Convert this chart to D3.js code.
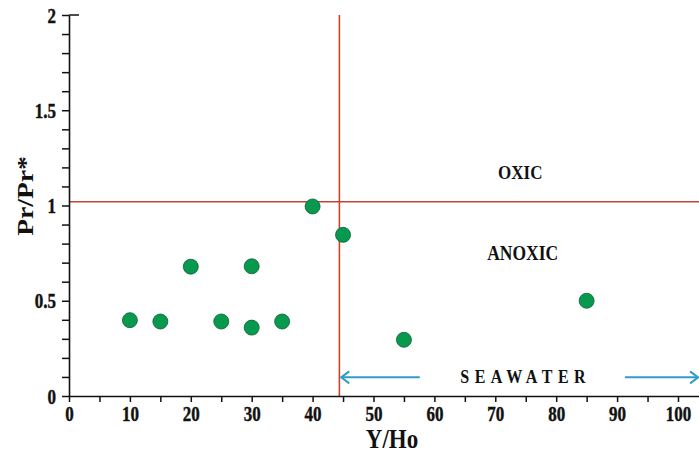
<!DOCTYPE html>
<html>
<head>
<meta charset="utf-8">
<script src="https://cdn.jsdelivr.net/npm/d3@7/dist/d3.min.js"></script>
<style>
  html, body { margin: 0; padding: 0; background: #ffffff; }
  svg { display: block; }
  text { font-family: "Liberation Serif", "Times New Roman", serif; font-weight: bold; }
</style>
</head>
<body>
<svg id="chart" width="699" height="452"></svg>
<script>
// ---- data ----
const yHo = [10, 15, 20, 25, 30, 30, 35, 40, 45, 55, 85];
const prPr = [0.398, 0.391, 0.679, 0.391, 0.359, 0.681, 0.391, 0.995, 0.846, 0.295, 0.50];
const xTickValues = [0, 5, 10, 15, 20, 25, 30, 35, 40, 45, 50, 55, 60, 65, 70, 75, 80, 85, 90, 95, 100];
const xTickLabels = ["0", "10", "20", "30", "40", "50", "60", "70", "80", "90", "100"];
const yTickValues = [0, 0.1, 0.2, 0.3, 0.4, 0.5, 0.6, 0.7, 0.8, 0.9, 1, 1.1, 1.2, 1.3, 1.4, 1.5, 1.6, 1.7, 1.8, 1.9, 2];
const yTickLabels = ["0", "0.5", "1", "1.5", "2"];
const yThreshold = 1.02;   // OXIC / ANOXIC boundary
const xThreshold = 44.4;   // seawater boundary
const regionLabels = ["OXIC", "ANOXIC", "SEAWATER"];
const xTitle = "Y/Ho";
const yTitle = "Pr/Pr*";

// ---- layout ----
const svg = d3.select("#chart");
const x = d3.scaleLinear().domain([0, 103.45]).range([69, 699]);
const y = d3.scaleLinear().domain([0, 2]).range([396, 15]);

const red = "#c8422e";
const blue = "#2e9dcb";
const FONT = "'Liberation Serif', 'Times New Roman', serif";
const SY = 1.15; // glyphs in the reference are slightly taller than wide

// threshold lines
svg.append("line")
  .attr("x1", x(0)).attr("x2", x(103.45))
  .attr("y1", y(yThreshold)).attr("y2", y(yThreshold))
  .attr("stroke", red).attr("stroke-width", 1.6);
svg.append("line")
  .attr("x1", x(xThreshold)).attr("x2", x(xThreshold))
  .attr("y1", y(0)).attr("y2", y(2))
  .attr("stroke", red).attr("stroke-width", 1.6);

// axes
const xAxis = d3.axisBottom(x)
  .tickValues(xTickValues)
  .tickSize(6)
  .tickSizeOuter(0)
  .tickFormat(d => xTickLabels.includes(String(d)) ? String(d) : "");
const gx = svg.append("g").attr("transform", `translate(0,${y(0)})`).call(xAxis);
gx.attr("font-family", FONT).attr("font-size", 17).attr("font-weight", "bold");
gx.select(".domain").attr("stroke", "#111").attr("stroke-width", 1.6);
gx.selectAll(".tick line").attr("stroke", "#111").attr("stroke-width", 1.5);
gx.selectAll(".tick text").attr("font-size", 17).attr("fill", "#111")
  .attr("stroke", "#111").attr("stroke-width", 0.35)
  .attr("y", 0).attr("dy", 0)
  .attr("transform", `translate(0,24.5) scale(1,1.2)`);

const yAxis = d3.axisLeft(y)
  .tickValues(yTickValues)
  .tickSize(7)
  .tickSizeOuter(0)
  .tickFormat(d => { const s = String(+d.toFixed(1)); return yTickLabels.includes(s) ? s : ""; });
const gy = svg.append("g").attr("transform", `translate(${x(0)},0)`).call(yAxis);
gy.attr("font-family", FONT).attr("font-size", 17).attr("font-weight", "bold");
gy.select(".domain").attr("stroke", "#111").attr("stroke-width", 1.6);
gy.selectAll(".tick line").attr("stroke", "#111").attr("stroke-width", 1.5);
gy.selectAll(".tick text").attr("font-size", 17).attr("fill", "#111")
  .attr("stroke", "#111").attr("stroke-width", 0.35)
  .attr("x", 0).attr("dy", 0)
  .attr("transform", `translate(-13,7) scale(1,1.2)`);
// top tick crosses the axis
svg.append("line")
  .attr("x1", x(0)).attr("x2", x(0) + 10)
  .attr("y1", y(2)).attr("y2", y(2))
  .attr("stroke", "#111").attr("stroke-width", 1.5);

// axis titles
svg.append("text")
  .attr("transform", `translate(${(x(0) + x(103.45)) / 2 + 8},448) scale(1,${SY})`)
  .attr("text-anchor", "middle").attr("font-size", 23).attr("fill", "#111")
  .text(xTitle);
svg.append("text")
  .attr("transform", `translate(33,${y(1.05)}) rotate(-90) scale(1.2,1)`)
  .attr("text-anchor", "middle").attr("font-size", 23).attr("fill", "#111")
  .text(yTitle);

// region labels
svg.append("text")
  .attr("transform", `translate(${x(74.1)},${y(1.14)}) scale(1,${SY})`)
  .attr("text-anchor", "middle").attr("font-size", 17).attr("fill", "#111")
  .text(regionLabels[0]);
svg.append("text")
  .attr("transform", `translate(${x(74.5)},${y(0.714)}) scale(1,${SY})`)
  .attr("text-anchor", "middle").attr("font-size", 17.5).attr("fill", "#111")
  .text(regionLabels[1]);
svg.append("text")
  .attr("transform", `translate(${x(74.5) + 3},${y(0.068)}) scale(1,${SY})`)
  .attr("text-anchor", "middle").attr("font-size", 16).attr("letter-spacing", "5.5px")
  .attr("fill", "#111")
  .text(regionLabels[2]);

// seawater arrows
const arrowY = y(0.098);
function arrow(fromV, toV) {
  const x1 = x(fromV), x2 = x(toV);
  const dir = Math.sign(x2 - x1);
  svg.append("line")
    .attr("x1", x1).attr("x2", x2 - dir * 1).attr("y1", arrowY).attr("y2", arrowY)
    .attr("stroke", blue).attr("stroke-width", 2);
  svg.append("path")
    .attr("d", `M${x2 - dir * 8},${arrowY - 6} L${x2},${arrowY} L${x2 - dir * 8},${arrowY + 6}`)
    .attr("fill", "none").attr("stroke", blue).attr("stroke-width", 2);
}
arrow(57.6, xThreshold + 0.3);
arrow(91.3, 103.3);

// points
svg.append("g").selectAll("circle")
  .data(yHo.map((v, i) => [v, prPr[i]]))
  .join("circle")
  .attr("cx", d => x(d[0]))
  .attr("cy", d => y(d[1]))
  .attr("r", 7.5)
  .attr("fill", "#079a4f")
  .attr("stroke", "#0b5e35")
  .attr("stroke-width", 0.8);
</script>
</body>
</html>
